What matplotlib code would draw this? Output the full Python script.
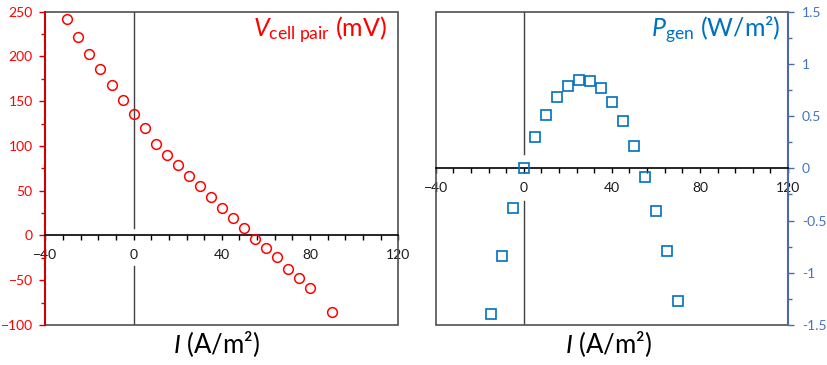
import matplotlib
matplotlib.use('Agg')
import matplotlib.pyplot as plt
from matplotlib.ticker import MultipleLocator
from matplotlib.patches import Rectangle

# ---- data ----
current_v = [-30, -25, -20, -15, -10, -5, 0, 5, 10, 15, 20, 25, 30, 35, 40,
             45, 50, 55, 60, 65, 70, 75, 80, 90]
v_cell = [241.5, 221.4, 203.1, 185.6, 168.5, 151.3, 135.7, 119.6, 101.8, 89.8,
          78.3, 66.7, 54.8, 43.2, 30.9, 19.8, 7.8, -3.7, -14.5, -24.6, -36.9,
          -47.7, -58.9, -85.7]

current_p = [-15, -10, -5, 0, 5, 10, 15, 20, 25, 30, 35, 40, 45, 50, 55, 60, 65, 70]
p_gen = [-1.395, -0.843, -0.377, 0.0, 0.300, 0.511, 0.680, 0.788, 0.843, 0.836,
         0.766, 0.635, 0.453, 0.214, -0.080, -0.409, -0.788, -1.270]

x_ticks = [-40, 0, 40, 80, 120]
v_ticks = [-100, -50, 0, 50, 100, 150, 200, 250]
p_ticks = [-1.5, -1, -0.5, 0, 0.5, 1, 1.5]
p_ticklabels = ['-1.5', '-1', '-0.5', '0', '0.5', '1', '1.5']

# ---- style ----
plt.rcParams['font.family'] = ['Lato', 'DejaVu Sans']
plt.rcParams['mathtext.fontset'] = 'custom'
plt.rcParams['mathtext.rm'] = 'Lato'
plt.rcParams['mathtext.it'] = 'Lato:italic'
plt.rcParams['mathtext.bf'] = 'Lato:bold'

RED = '#FF0000'
RED_SPINE = '#D00000'
BLUE = '#0070C0'
BLUE_TICK = '#4472C4'
BLUE_SPINE = '#4A6BA8'
FRAME = '#505050'
TICK_FS = 10
TITLE_FS = 18
XLABEL_FS = 18.5

fig = plt.figure(figsize=(8.27, 3.65), dpi=100)
ax1 = fig.add_axes([0.0548, 0.1096, 0.4268, 0.8584])
ax2 = fig.add_axes([0.5268, 0.1096, 0.4260, 0.8584])


def style_common(ax, gap):
    ax.set_xlim(-40, 120)
    ax.set_xticks(x_ticks)
    ax.xaxis.set_minor_locator(MultipleLocator(8))
    ax.spines['bottom'].set_position(('data', 0))
    ax.spines['bottom'].set_color('black')
    ax.spines['bottom'].set_linewidth(1.2)
    ax.spines['top'].set_visible(False)
    ax.tick_params(axis='x', which='major', direction='out', length=3.5,
                   width=1, color='black', labelsize=TICK_FS,
                   labelcolor='#1a1a1a', pad=6.5)
    ax.tick_params(axis='x', which='minor', direction='out', length=3.5,
                   width=1, color='black')
    ax.add_patch(Rectangle((0, 0), 1, 1, transform=ax.transAxes, fill=False,
                           edgecolor=FRAME, lw=1.2, clip_on=False, zorder=2))
    ax.axvline(0, ymin=0, ymax=gap[0], color='#404040', lw=1, zorder=1)
    ax.axvline(0, ymin=gap[1], ymax=1, color='#404040', lw=1, zorder=1)


# ---- left panel ----
style_common(ax1, (0.1885, 0.310))
ax1.set_ylim(-100, 250)
ax1.set_yticks(v_ticks)
ax1.yaxis.set_minor_locator(MultipleLocator(25))
ax1.spines['right'].set_visible(False)
ax1.spines['left'].set_color(RED_SPINE)
ax1.spines['left'].set_linewidth(1.5)
ax1.tick_params(axis='y', which='major', direction='out', length=4, width=1,
                color=RED_SPINE, labelcolor=RED, labelsize=TICK_FS, pad=5)
ax1.tick_params(axis='y', which='minor', direction='out', length=2.7,
                width=1, color=RED_SPINE)
ax1.plot(current_v, v_cell, 'o', mfc='none', mec=RED, ms=7, mew=1.1,
         clip_on=False, zorder=3)
ax1.text(0.967, 0.92, r'$\mathit{V}_{\mathrm{cell\ pair}}$ (mV)',
         transform=ax1.transAxes, ha='right', va='baseline',
         fontsize=TITLE_FS, color=RED)

# ---- right panel ----
style_common(ax2, (0.396, 0.546))
ax2.set_ylim(-1.5, 1.5)
ax2.set_yticks(p_ticks)
ax2.set_yticklabels(p_ticklabels)
ax2.yaxis.set_minor_locator(MultipleLocator(0.25))
ax2.yaxis.tick_right()
ax2.spines['left'].set_visible(False)
ax2.spines['right'].set_color(BLUE_SPINE)
ax2.spines['right'].set_linewidth(1.5)
ax2.tick_params(axis='y', which='major', direction='out', length=4, width=1,
                color=BLUE_SPINE, labelcolor=BLUE_TICK, labelsize=TICK_FS, pad=6)
ax2.tick_params(axis='y', which='minor', direction='out', length=2.7,
                width=1, color=BLUE_SPINE)
ax2.plot(current_p, p_gen, 's', mfc='none', mec=BLUE, ms=6.5, mew=1.2,
         clip_on=False, zorder=3)
ax2.text(0.98, 0.92, r'$\mathit{P}_{\mathrm{gen}}$ (W/m²)',
         transform=ax2.transAxes, ha='right', va='baseline',
         fontsize=TITLE_FS, color=BLUE)

# ---- x labels ----
for xc in (216, 608):
    fig.text(xc / 827, 1 - 353.5 / 365, r'$\mathit{I}$ (A/m²)',
             ha='center', va='baseline', fontsize=XLABEL_FS, color='black')

fig.savefig('out.png', dpi=100, facecolor='white')
